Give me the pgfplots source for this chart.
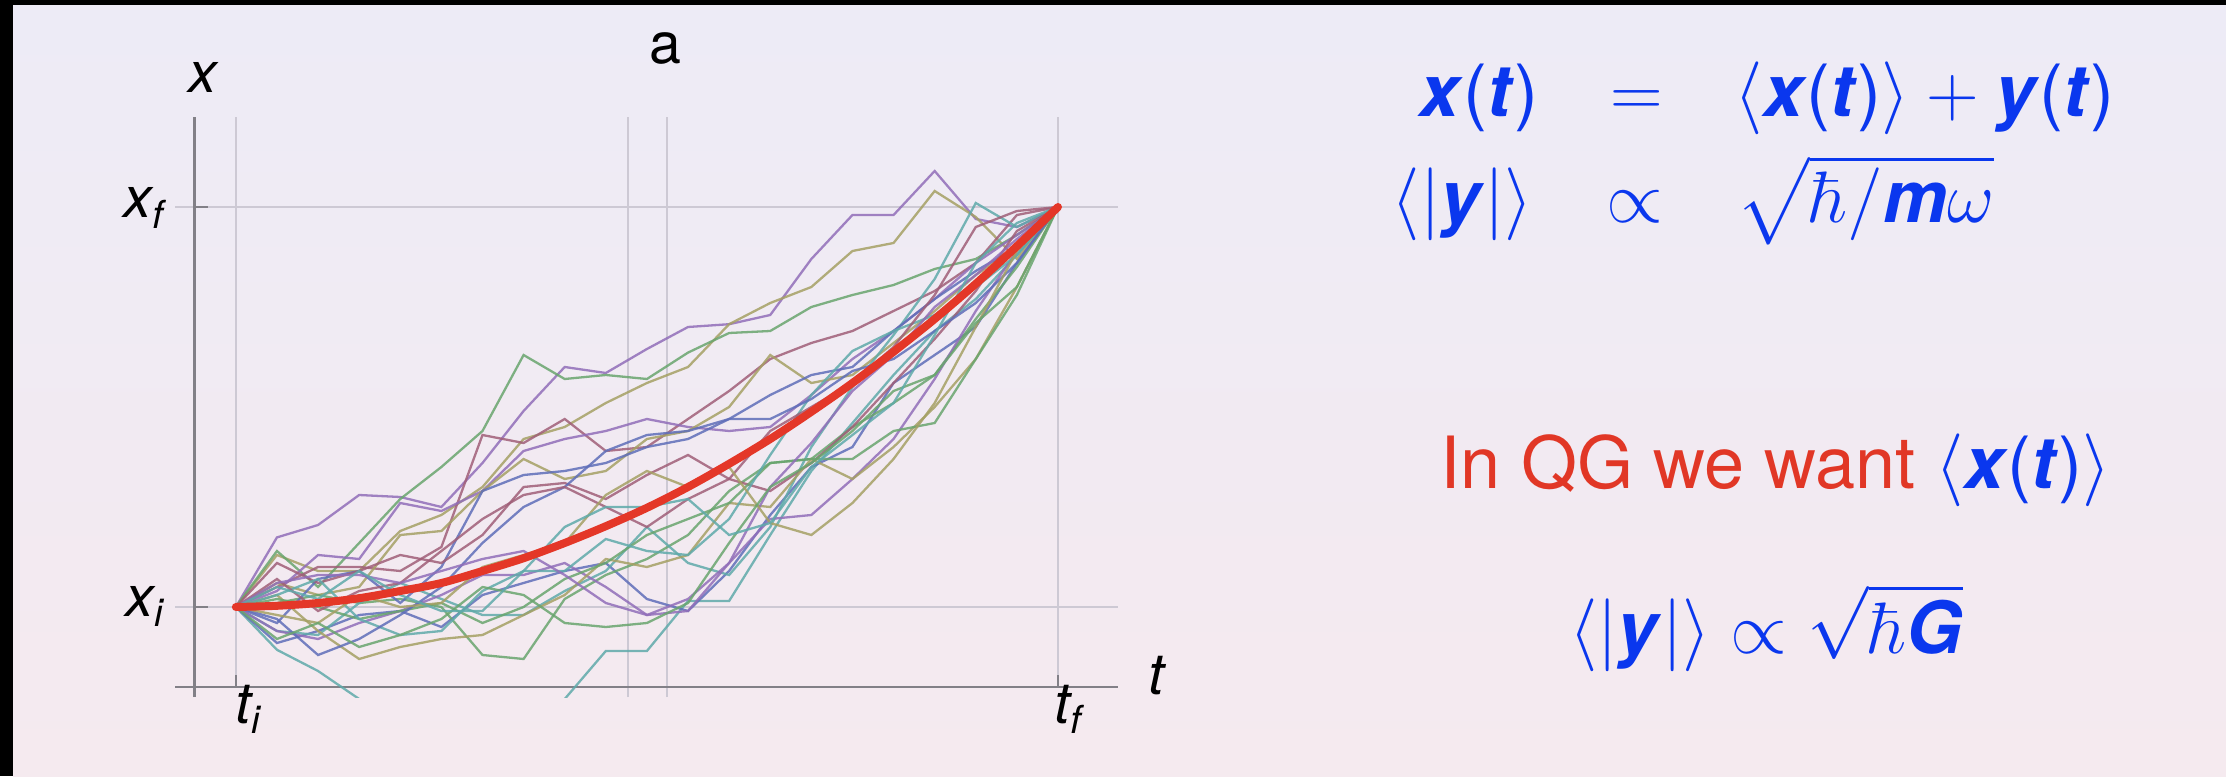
\documentclass[border=0pt]{standalone}
\usepackage[no-math]{fontspec}
\setmainfont{TeX Gyre Heros}
\usepackage{exscale}
\usepackage{pgfplots}
\usepackage{pgfplotstable}
\pgfplotsset{compat=1.18}
\definecolor{bgtop}{RGB}{237,235,246}
\definecolor{bgbot}{RGB}{245,234,239}
\definecolor{gridc}{RGB}{205,201,212}
\definecolor{axisc}{RGB}{130,128,135}
\definecolor{cpur}{RGB}{145,110,185}
\definecolor{coli}{RGB}{165,160,100}
\definecolor{cgre}{RGB}{105,165,110}
\definecolor{ctea}{RGB}{95,170,170}
\definecolor{cblu}{RGB}{95,110,185}
\definecolor{cmau}{RGB}{160,95,120}
\definecolor{redc}{RGB}{228,55,40}
\definecolor{blueT}{RGB}{10,55,238}
\definecolor{redT}{RGB}{225,55,38}
\newcommand\mv[1]{\textbf{\textit{#1}}}
\newcommand\lsub[1]{\raisebox{-0.35ex}{\fontsize{11}{12}\selectfont\itshape #1}}

\pgfplotstableread{
t p1 p2 p3 p4 p5 p6 p7 p8 p9 p10 p11 p12 p13 p14 p15 p16 p17 p18 p19 p20 p21 p22
0 0 0 0 0 0 0 0 0 0 0 0 0 0 0 0 0 0 0 0 0 0 0
1 1.74 1.3 1.4 -1.07 -0.9 0.5 0.4 0.6 0.1 -0.6 -0.4 1.1 -0.6 0.3 0.2 0.3 -0.3 0.7 0.6 -0.2 -0.8 0.5
2 2.05 0.9 0.5 -1.6 -0.6 1.0 1.3 0.3 0.3 -0.7 0.7 0.6 -0.8 -0.6 0.0 0.7 -1.2 -0.1 0.8 -0.4 -0.4 0.2
3 2.8 0.9 1.6 -2.3 -0.2 1.0 1.2 0.5 0.1 0.1 0.9 0.9 -0.4 -1.3 -0.3 -0.3 -0.8 0.4 0.8 0.3 -1.0 0.9
4 2.75 1.9 2.7 -2.8 -0.1 0.9 2.6 1.8 0.2 0.6 0.1 1.3 -0.1 -1.0 -0.1 -0.7 -0.2 0.6 0.6 0.0 -0.7 0.3
5 2.5 2.3 3.5 -3.0 -0.5 1.5 2.4 1.9 0.0 0.2 1.0 1.1 0.3 -0.8 0.1 -0.6 0.5 1.4 0.9 0.1 -0.3 -0.1
6 3.6 3.0 4.4 -3.0 0.3 4.3 2.9 2.9 -1.2 -0.2 2.9 1.8 0.8 -0.7 -0.4 0.4 1.6 2.2 1.2 1.0 0.5 -0.1
7 4.9 4.2 6.3 -2.8 0.6 4.1 3.9 3.7 -1.3 -0.2 3.3 3.0 0.8 -0.2 0.0 0.9 2.5 2.8 1.4 1.3 0.3 0.9
8 6.0 4.5 5.7 -2.3 0.9 4.7 4.2 3.2 0.2 0.4 3.4 3.1 1.1 0.3 0.7 0.9 3.0 3.0 0.8 1.6 -0.4 2.0
9 5.85 5.1 5.8 -1.1 1.1 3.9 4.4 3.4 0.8 0.9 3.6 2.7 0.5 1.2 1.1 1.7 3.9 2.5 0.1 2.8 -0.5 2.5
10 6.45 5.6 5.7 -1.1 0.2 4.0 4.7 4.2 1.2 2.0 4.0 3.3 -0.2 1.0 1.8 1.4 4.3 2.0 -0.2 3.4 -0.4 2.5
11 7.0 6.0 6.36 0.15 -0.1 4.7 4.5 4.4 1.8 1.1 4.2 3.8 -0.1 1.3 2.2 1.3 4.4 2.7 0.2 3.0 0.1 2.7
12 7.07 7.07 6.85 0.15 0.9 5.4 4.4 5.0 2.9 0.8 4.7 3.2 1.1 2.6 2.6 2.2 4.7 3.2 1.1 3.5 1.6 1.8
13 7.3 7.6 6.9 1.8 2.3 6.2 4.5 6.3 3.6 2.0 5.3 2.9 2.2 2.5 3.6 3.8 4.7 4.4 3.0 2.1 3.0 2.1
14 8.7 8.0 7.5 3.4 3.5 6.6 5.3 5.6 3.7 4.0 5.8 3.6 2.3 3.7 3.7 5.3 5.2 5.0 4.1 1.8 3.6 3.5
15 9.8 8.9 7.8 4.6 4.0 6.9 6.2 5.8 4.5 5.5 6.0 4.5 3.2 3.2 3.7 6.4 5.9 5.6 5.4 2.6 4.4 4.3
16 9.8 9.1 8.05 5.8 5.6 7.4 6.9 6.6 5.1 6.8 6.9 5.6 4.2 4.0 4.4 6.9 6.2 6.5 6.3 3.7 5.4 5.1
17 10.9 10.4 8.45 6.9 6.3 7.9 7.7 7.4 5.8 8.2 7.7 6.7 5.7 5.0 4.6 7.3 6.9 7.8 7.5 5.1 5.8 6.8
18 9.7 9.75 8.7 7.7 7.0 8.6 8.6 8.3 7.2 10.1 8.4 7.9 7.4 6.2 6.2 8.0 7.6 9.5 8.3 7.0 7.1 8.6
19 9.5 8.7 9.3 8.8 8.6 9.8 9.3 9.0 8.5 9.5 9.0 9.4 8.9 8.0 7.8 8.8 8.6 9.9 9.2 8.9 8.0 9.6
20 10 10 10 10 10 10 10 10 10 10 10 10 10 10 10 10 10 10 10 10 10 10
}\paths

\begin{document}
\begin{tikzpicture}
\path[use as bounding box] (0,0) rectangle (222.6mm,77.6mm);
\fill[black] (0,0) rectangle (222.6mm,77.6mm);
\shade[top color=bgtop, bottom color=bgbot] (1.3mm,0) rectangle (222.6mm,77.0mm);

\begin{axis}[
  at={(17.5mm,7.9mm)}, anchor=south west,
  scale only axis, width=94.3mm, height=58mm,
  xmin=-1.48, xmax=21.46, ymin=-2.25, ymax=12.25,
  hide axis, clip=true,
  cycle list={
    {cpur, line width=0.23mm, opacity=0.85},
    {coli, line width=0.23mm, opacity=0.85},
    {cgre, line width=0.23mm, opacity=0.85},
    {ctea, line width=0.23mm, opacity=0.85},
    {cblu, line width=0.23mm, opacity=0.85},
    {cmau, line width=0.23mm, opacity=0.85}},
]
% grid lines
\draw[gridc, line width=0.22mm] (axis cs:0,-2) -- (axis cs:0,12.25);
\draw[gridc, line width=0.22mm] (axis cs:20,-2) -- (axis cs:20,12.25);
\draw[gridc, line width=0.22mm] (axis cs:9.54,-2.25) -- (axis cs:9.54,12.25);
\draw[gridc, line width=0.22mm] (axis cs:10.49,-2.25) -- (axis cs:10.49,12.25);
\draw[gridc, line width=0.22mm] (axis cs:-1.48,0) -- (axis cs:21.46,0);
\draw[gridc, line width=0.22mm] (axis cs:-1.48,10) -- (axis cs:21.46,10);
% axis lines and ticks
\draw[axisc, line width=0.25mm] (axis cs:-1,-2.25) -- (axis cs:-1,12.25);
\draw[axisc, line width=0.25mm] (axis cs:-1.48,-2) -- (axis cs:21.46,-2);
\draw[axisc, line width=0.25mm] (axis cs:0,-2) -- (axis cs:0,-1.7);
\draw[axisc, line width=0.25mm] (axis cs:20,-2) -- (axis cs:20,-1.7);
\draw[axisc, line width=0.25mm] (axis cs:-1,0) -- (axis cs:-0.68,0);
\draw[axisc, line width=0.25mm] (axis cs:-1,10) -- (axis cs:-0.68,10);
\pgfplotsinvokeforeach{1,...,22}{
  \addplot table[x=t, y=p#1] {\paths};
}
\addplot[redc, line width=0.8mm, smooth, line cap=round] coordinates {
(0,0) (1,0.03) (2,0.1) (3,0.22) (4,0.4) (5,0.6) (6,0.9) (7,1.22) (8,1.6) (9,2.02) (10,2.48)
(11,3.0) (12,3.58) (13,4.2) (14,4.88) (15,5.6) (16,6.38) (17,7.2) (18,8.08) (19,9.02) (20,10)};
\end{axis}

% plot labels
\begin{scope}[every node/.style={inner sep=0pt, text=black}]
\fontsize{16.3}{19}\selectfont
\node at (20.3mm,69.9mm) {\itshape x};
\node at (66.5mm,72.75mm) {a};
\node[anchor=base west] at (114.8mm,8.2mm) {\itshape t};
\node[anchor=base west] at (23.5mm,5.3mm) {\itshape t\lsub{i}};
\node[anchor=base west] at (105.4mm,5.3mm) {\itshape t\lsub{f}};
\node[anchor=base west] at (12.3mm,55.8mm) {\itshape x\lsub{f}};
\node[anchor=base west] at (12.5mm,16.0mm) {\itshape x\lsub{i}};
\end{scope}

% right-hand text
\begin{scope}[every node/.style={inner sep=0pt, text=blueT}]
\fontsize{20.5}{24}\selectfont
\node[anchor=base east] at (153.9mm,65.9mm) {\mv{x}(\mv{t})};
\node[anchor=base] at (163.7mm,65.9mm) {$=$};
\node[anchor=base west] at (173.4mm,65.9mm) {$\langle\mbox{\mv{x}(\mv{t})}\rangle + \mbox{\mv{y}(\mv{t})}$};
\node[anchor=base east] at (153.4mm,55.3mm) {$\langle|\mbox{\mv{y}}|\rangle$};
\node[anchor=base] at (163.5mm,55.3mm) {$\propto$};
\node[anchor=base west] at (173.6mm,55.3mm) {$\sqrt{\hbar/\mbox{\mv{m}}\omega}$};
\node[anchor=base, text=redT] at (177.6mm,28.8mm) {In QG we want\ \textcolor{blueT}{$\langle\mbox{\mv{x}(\mv{t})}\rangle$}};
\node[anchor=base] at (176.6mm,12.3mm) {$\langle|\mbox{\mv{y}}|\rangle \propto \sqrt{\hbar\mbox{\mv{G}}}$};
\end{scope}
\end{tikzpicture}
\end{document}
